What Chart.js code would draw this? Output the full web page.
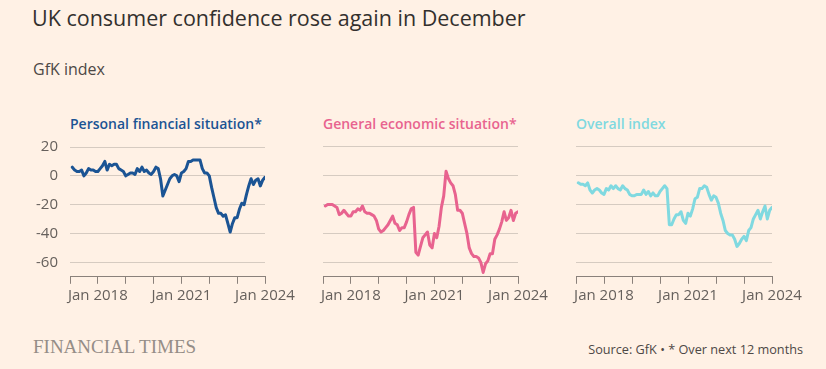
<!DOCTYPE html>
<html>
<head>
<meta charset="utf-8">
<script src="https://cdn.jsdelivr.net/npm/chart.js@4.4.0/dist/chart.umd.min.js"></script>
<style>
  html, body { margin: 0; padding: 0; }
  body { width: 826px; height: 369px; background: #fff1e5; position: relative; overflow: hidden; font-family: "Open Sans", sans-serif; }
  .t { position: absolute; white-space: nowrap; line-height: 1; }
  canvas { position: absolute; }
</style>
</head>
<body>
<div class="t" id="title" style="left:32px; top:7px; font-size:21.5px; color:#33302e;">UK consumer confidence rose again in December</div>
<div class="t" id="sub" style="left:33px; top:61px; font-size:16px; color:#4d4845;">GfK index</div>
<div class="t" style="left:70px; top:117px; font-size:14px; font-weight:600; color:#1b5494;">Personal financial situation*</div>
<div class="t" style="left:323px; top:117px; font-size:14px; font-weight:600; color:#e8638f;">General economic situation*</div>
<div class="t" style="left:576px; top:117px; font-size:14px; font-weight:600; color:#80d9e0;">Overall index</div>
<canvas id="c1" width="305" height="184" style="left:0px; top:126px;"></canvas>
<canvas id="c2" width="245" height="174" style="left:313px; top:136px;"></canvas>
<canvas id="c3" width="246" height="174" style="left:566px; top:136px;"></canvas>
<div class="t" style="left:33px; top:337px; font-size:19px; color:#958d87; font-family:'Liberation Serif', serif;">FINANCIAL TIMES</div>
<div class="t" style="right:23px; top:343px; font-size:12.7px; color:#4d4845;">Source: GfK • * Over next 12 months</div>
<script>
// Monthly categories, Jan 2017 – Dec 2023
const months = [];
for (let y = 2017; y <= 2023; y++) for (let m = 1; m <= 12; m++) months.push(y + '-' + String(m).padStart(2, '0'));

// GfK personal financial situation, next 12 months
const personal = [
  6, 4, 3, 3, 4, 0, 2, 5, 4, 4, 3, 3,
  5, 7, 10, 4, 8, 7, 8, 8, 5, 4, 3, 0,
  1, 2, 2, 1, 5, 3, 6, 3, 4, 2, 1, 3,
  6, 5, -2, -14, -10, -6, -2, 0, 1, 0, -4, 2,
  3, 5, 10, 10, 11, 11, 11, 11, 5, 2, 2, 0,
  -8, -15, -22, -26, -26, -28, -27, -33, -39, -33, -29, -29,
  -23, -19, -20, -13, -7, -2, -6, -3, -2, -7, -3, -1
];
// GfK general economic situation, next 12 months
const general = [
  -21, -20, -20, -20, -21, -22, -27, -26, -24, -26, -28, -28,
  -25, -25, -23, -24, -21, -25, -26, -26, -27, -28, -31, -37,
  -39, -38, -36, -34, -31, -28, -33, -34, -38, -36, -36, -32,
  -27, -23, -22, -53, -55, -49, -43, -41, -39, -48, -50, -40,
  -43, -35, -22, -14, 3, -2, -5, -7, -13, -24, -24, -26,
  -33, -40, -50, -54, -56, -56, -57, -60, -67, -61, -59, -54,
  -54, -44, -41, -37, -32, -25, -31, -29, -24, -31, -26, -25
];
// GfK overall consumer confidence index
const overall = [
  -5, -6, -6, -7, -5, -10, -12, -10, -9, -10, -12, -13,
  -9, -10, -7, -9, -7, -9, -10, -7, -9, -10, -13, -14,
  -14, -13, -13, -13, -10, -13, -11, -14, -12, -14, -14, -11,
  -9, -7, -9, -34, -34, -30, -27, -27, -25, -31, -33, -26,
  -28, -23, -16, -15, -9, -9, -7, -8, -13, -17, -14, -15,
  -19, -26, -31, -38, -40, -41, -41, -44, -49, -47, -44, -42,
  -45, -38, -36, -30, -27, -24, -30, -25, -21, -30, -24, -22
];

const xTickYears = [2017, 2018, 2019, 2020, 2021, 2022, 2023, 2024];
const xTickLabelYears = [2018, 2021, 2024];
const xTickLabels = ['Jan 2018', 'Jan 2021', 'Jan 2024'];
const yTicks = [-60, -40, -20, 0, 20];

// month-end position on a year scale
function monthToX(s) {
  const [y, m] = s.split('-').map(Number);
  return y + m / 12;
}

function makePanel(id, values, color, showY, padLeft, padTop, yWidth) {
  const data = months.map((mo, i) => ({ x: monthToX(mo), y: values[i] }));
  new Chart(document.getElementById(id), {
    type: 'line',
    data: { datasets: [{ data, borderColor: color, borderWidth: 3, pointRadius: 0, tension: 0,
      borderJoinStyle: 'round', borderCapStyle: 'round', fill: false }] },
    options: {
      responsive: false, animation: false, devicePixelRatio: 1,
      layout: { padding: { left: padLeft, right: 40, top: padTop, bottom: 0 } },
      plugins: { legend: { display: false }, tooltip: { enabled: false }, title: { display: false } },
      scales: {
        x: {
          type: 'linear', min: 2017, max: 2024,
          afterBuildTicks: (s) => { s.ticks = xTickYears.map(v => ({ value: v })); },
          afterFit: (s) => { s.height = 33.2; },
          ticks: {
            autoSkip: false, maxRotation: 0, minRotation: 0, padding: 3,
            color: '#66605c', font: { family: 'Open Sans', size: 15 },
            callback: (v) => { const k = xTickLabelYears.indexOf(v); return k >= 0 ? xTickLabels[k] : ''; }
          },
          grid: { drawOnChartArea: false, drawTicks: true, tickLength: 7, color: '#8a817b', lineWidth: 1 },
          border: { display: true, color: '#8a817b', width: 1 }
        },
        y: {
          min: -70, max: 20,
          afterBuildTicks: (s) => { s.ticks = yTicks.map(v => ({ value: v })); },
          afterFit: (s) => { s.width = yWidth; },
          ticks: { display: showY, padding: 12, color: '#66605c', font: { family: 'Open Sans', size: 15 } },
          grid: { drawTicks: false, color: '#d6cbc1', lineWidth: 1 },
          border: { display: false }
        }
      }
    }
  });
}

makePanel('c1', personal, '#1b5494', true, 0, 0.7, 70);
makePanel('c2', general, '#e8638f', false, 10, 10.7, 0);
makePanel('c3', overall, '#80d9e0', false, 10, 10.7, 0);
</script>
</body>
</html>
